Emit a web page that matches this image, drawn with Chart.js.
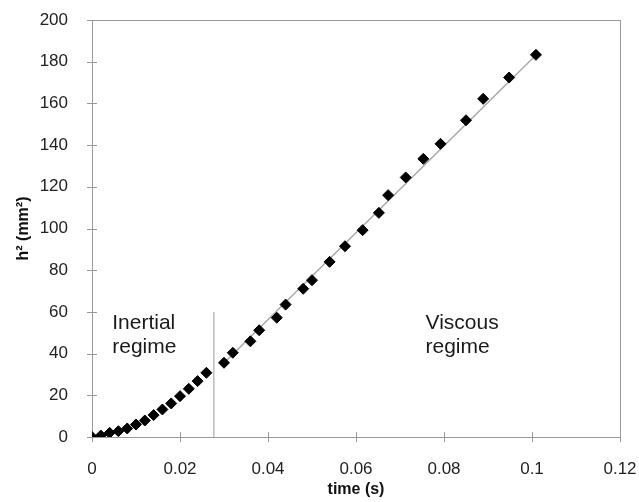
<!DOCTYPE html>
<html>
<head>
<meta charset="utf-8">
<script src="https://cdn.jsdelivr.net/npm/chart.js@4"></script>
<style>
  body { margin: 0; background: #fff; }
</style>
</head>
<body>
<canvas id="spread" width="639" height="502"></canvas>
<script>
// measured points
const times = [0, 0.002, 0.004, 0.006, 0.008, 0.010, 0.012, 0.014, 0.016, 0.018,
    0.020, 0.022, 0.024, 0.026, 0.030, 0.032, 0.036, 0.038, 0.042, 0.044,
    0.048, 0.050, 0.054, 0.0575, 0.0615, 0.0652, 0.0673, 0.0713, 0.0753, 0.0792,
    0.085, 0.0889, 0.0948, 0.1009];
const hSquared = [0, 0.7, 2.0, 2.8, 4.1, 6.0, 7.9, 10.5, 13.2, 16.1,
    19.6, 23.1, 26.8, 30.8, 35.6, 40.4, 45.9, 51.2, 57.2, 63.5,
    71.1, 75.2, 84.0, 91.5, 99.2, 107.5, 116.0, 124.5, 133.4, 140.6,
    151.9, 162.2, 172.4, 183.3];

// grey fit line through the viscous part
const fitTimes = [0.030, 0.1012];
const fitH = [35.5, 183.8];

// regime boundary
const boundaryTimes = [0.0277, 0.0277];
const boundaryH = [0, 60];

const xTicks = [0, 0.02, 0.04, 0.06, 0.08, 0.1, 0.12];
const yTicks = [0, 20, 40, 60, 80, 100, 120, 140, 160, 180, 200];

const toXY = (xs, ys) => xs.map((v, i) => ({ x: v, y: ys[i] }));

const frameTicks = {
    id: 'frameTicks',
    beforeDatasetsDraw(chart, args, opts) {
        const { ctx, chartArea: { left, top, right, bottom }, scales: { x, y } } = chart;
        ctx.save();
        ctx.strokeStyle = opts.color;
        ctx.lineWidth = 1;
        ctx.strokeRect(left + 0.5, top + 0.5, right - left, bottom - top);
        ctx.beginPath();
        x.ticks.forEach(t => {
            const px = Math.round(x.getPixelForValue(t.value)) + 0.5;
            ctx.moveTo(px, bottom - opts.len);
            ctx.lineTo(px, bottom + opts.len);
        });
        y.ticks.forEach(t => {
            const py = Math.round(y.getPixelForValue(t.value)) + 0.5;
            ctx.moveTo(left - opts.len, py);
            ctx.lineTo(left + opts.len, py);
        });
        ctx.stroke();

        ctx.fillStyle = opts.textColor;
        ctx.font = opts.font;
        ctx.textBaseline = 'alphabetic';
        opts.labels.forEach(l => {
            l.lines.forEach((s, i) => {
                ctx.fillText(s, x.getPixelForValue(l.x), y.getPixelForValue(l.y) + i * opts.lineGap);
            });
        });
        ctx.restore();
    }
};

Chart.defaults.font.family = "'Liberation Sans', Arial, sans-serif";
Chart.defaults.color = "#222";

new Chart(document.getElementById('spread'), {
    type: 'scatter',
    data: {
        datasets: [{
            label: 'h2',
            data: toXY(times, hSquared),
            pointStyle: 'rectRot',
            pointRadius: 5.5,
            backgroundColor: '#000',
            borderColor: '#000',
            borderWidth: 1,
            order: 0
        },
        {
            label: 'fit',
            data: toXY(fitTimes, fitH),
            showLine: true,
            pointRadius: 0,
            borderColor: '#a8a8a8',
            borderWidth: 1.5,
            order: 1
        },
        {
            label: 'boundary',
            data: toXY(boundaryTimes, boundaryH),
            showLine: true,
            pointRadius: 0,
            borderColor: '#999',
            borderWidth: 1,
            order: 2
        }]
    },
    options: {
        responsive: false,
        animation: false,
        layout: { padding: { left: 0, right: 19, top: 20, bottom: 0 } },
        scales: {
            x: {
                type: 'linear',
                min: 0,
                max: 0.12,
                afterBuildTicks: s => { s.ticks = xTicks.map(v => ({ value: v })); },
                afterFit: s => { s.height = 65; s.paddingLeft = 0; s.paddingRight = 0; },
                grid: { display: false },
                border: { display: false },
                ticks: {
                    padding: 14,
                    font: { size: 17 },
                    callback: v => String(+v.toFixed(3))
                },
                title: {
                    display: true,
                    text: 'time (s)',
                    color: '#111',
                    font: { size: 16, weight: 'bold' },
                    padding: { top: 0, bottom: 3 }
                }
            },
            y: {
                min: 0,
                max: 200,
                afterBuildTicks: s => { s.ticks = yTicks.map(v => ({ value: v })); },
                afterFit: s => { s.width = 92; s.paddingTop = 0; s.paddingBottom = 0; },
                grid: { display: false },
                border: { display: false },
                ticks: {
                    padding: 16,
                    font: { size: 17 }
                },
                title: {
                    display: true,
                    text: 'h² (mm²)',
                    color: '#111',
                    font: { size: 16, weight: 'bold' },
                    padding: { top: 14, bottom: 0 }
                }
            }
        },
        plugins: {
            legend: { display: false },
            tooltip: { enabled: false },
            frameTicks: {
                color: '#999',
                len: 5,
                textColor: '#1a1a1a',
                font: "21px 'Liberation Sans', Arial, sans-serif",
                lineGap: 24,
                labels: [
                    { x: 0.0046, y: 52, lines: ['Inertial', 'regime'] },
                    { x: 0.0758, y: 52, lines: ['Viscous', 'regime'] }
                ]
            }
        }
    },
    plugins: [frameTicks]
});
</script>
</body>
</html>
